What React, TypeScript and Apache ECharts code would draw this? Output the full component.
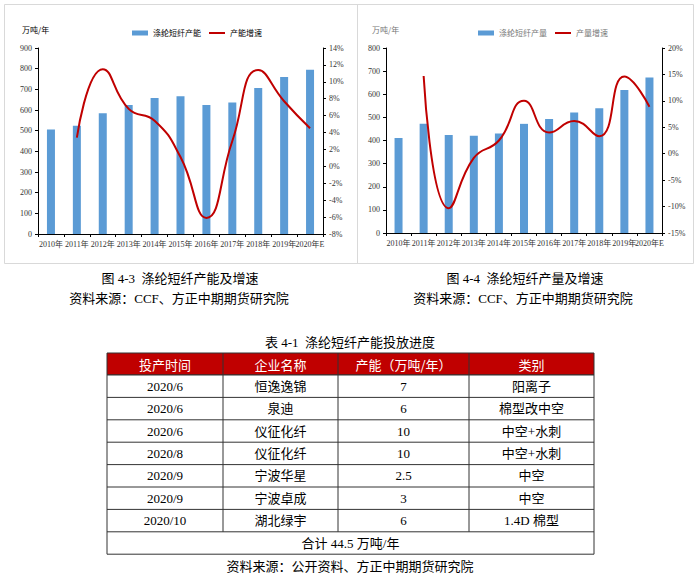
import React, { useEffect, useRef } from "react";
import * as echarts from "echarts";

// ---------- data ----------
const years = ["2010年", "2011年", "2012年", "2013年", "2014年", "2015年", "2016年", "2017年", "2018年", "2019年", "2020年E"];
const capacity = [506, 524, 584, 624, 658, 666, 624, 636, 706, 760, 795];
const capacityGrowth: (number | string)[] = ["-", 3.4, 11.5, 6.8, 5.4, 1.1, -6.1, 3.0, 11.4, 7.7, 4.5];
const output = [411, 472, 424, 421, 430, 472, 493, 521, 540, 618, 672];
const outputGrowth: (number | string)[] = ["-", 14.7, -10.3, -0.8, 2.5, 10.0, 4.0, 6.2, 3.3, 14.6, 8.9];

const tableHeaders = ["投产时间", "企业名称", "产能（万吨/年）", "类别"];
const tableDates = ["2020/6", "2020/6", "2020/6", "2020/8", "2020/9", "2020/9", "2020/10"];
const tableCompanies = ["恒逸逸锦", "泉迪", "仪征化纤", "仪征化纤", "宁波华星", "宁波卓成", "湖北绿宇"];
const tableCapacities = ["7", "6", "10", "10", "2.5", "3", "6"];
const tableTypes = ["阳离子", "棉型改中空", "中空+水刺", "中空+水刺", "中空", "中空", "1.4D 棉型"];
const tableTotal = "合计 44.5 万吨/年";

const caption1 = "图 4-3  涤纶短纤产能及增速";
const caption2 = "图 4-4  涤纶短纤产量及增速";
const sourceChart = "资料来源：CCF、方正中期期货研究院";
const tableTitle = "表 4-1  涤纶短纤产能投放进度";
const sourceTable = "资料来源：公开资料、方正中期期货研究院";

const SERIF = "'Liberation Serif', 'Noto Sans CJK SC', serif";
const SANS = "'Noto Sans CJK SC', sans-serif";
const BLUE = "#5B9BD5";
const RED = "#C00000";
const LINE_ICON = "path://M0 0h16v2H0z";

export default function App() {
  const ref = useRef<HTMLDivElement>(null);
  useEffect(() => {
    const chart = echarts.init(ref.current!, undefined, { renderer: "svg" });

    const axisText = { fontSize: 8, color: "#333", fontFamily: SERIF };
    const catAxis = (gi: number) => ({
      type: "category",
      gridIndex: gi,
      data: years,
      axisLine: { lineStyle: { color: "#000", width: 1 } },
      axisTick: { show: true, alignWithLabel: false, length: 3, lineStyle: { color: "#000" } },
      axisLabel: { ...axisText, margin: 6, interval: 0 },
    });
    const valAxis = (gi: number, min: number, max: number, interval: number, pct: boolean, pos: string) => ({
      type: "value",
      gridIndex: gi,
      min,
      max,
      interval,
      position: pos,
      axisLine: { show: true, lineStyle: { color: "#000", width: 1 } },
      axisTick: { show: true, length: 3, lineStyle: { color: "#000" } },
      splitLine: { show: false },
      axisLabel: { ...axisText, margin: 6, formatter: pct ? "{value}%" : "{value}" },
    });

    const colX = [107, 223, 338, 469, 594];
    const headerTop = 353;
    const headerH = 22;
    const rowH = 22.4;
    const graphics: any[] = [];
    graphics.push({
      type: "rect",
      shape: { x: 4.5, y: 4.5, width: 689, height: 259 },
      style: { fill: "#fff", stroke: "#D9D9D9", lineWidth: 1 },
      z: -10,
    });
    graphics.push({
      type: "line",
      shape: { x1: 357.5, y1: 4.5, x2: 357.5, y2: 263.5 },
      style: { stroke: "#D9D9D9", lineWidth: 1 },
      z: -9,
    });
    const centerText = (text: string, x: number, y: number, size: number, color: string, family: string) => ({
      type: "text",
      x,
      y,
      style: { text, fontSize: size, fill: color, fontFamily: family, textAlign: "center", textVerticalAlign: "middle" },
    });
    graphics.push(centerText(caption1, 180, 278, 13, "#000", SERIF));
    graphics.push(centerText(sourceChart, 179, 298, 13, "#000", SERIF));
    graphics.push(centerText(caption2, 525, 278, 13, "#000", SERIF));
    graphics.push(centerText(sourceChart, 523, 298, 13, "#000", SERIF));
    graphics.push(centerText(tableTitle, 350, 342, 13, "#000", SERIF));

    graphics.push({
      type: "rect",
      shape: { x: colX[0], y: headerTop, width: colX[4] - colX[0], height: headerH },
      style: { fill: RED, stroke: "#333", lineWidth: 1 },
    });
    for (let c = 0; c < 4; c++) {
      graphics.push(centerText(tableHeaders[c], (colX[c] + colX[c + 1]) / 2, headerTop + headerH / 2, 13, "#fff", SANS));
    }
    const nRows = tableDates.length;
    const bodyTop = headerTop + headerH;
    const tableBottom = bodyTop + (nRows + 1) * rowH;
    graphics.push({
      type: "rect",
      shape: { x: colX[0], y: bodyTop, width: colX[4] - colX[0], height: (nRows + 1) * rowH },
      style: { fill: "#fff", stroke: "#333", lineWidth: 1 },
    });
    for (let r = 1; r <= nRows; r++) {
      const y = bodyTop + r * rowH;
      graphics.push({ type: "line", shape: { x1: colX[0], y1: y, x2: colX[4], y2: y }, style: { stroke: "#333", lineWidth: 1 } });
    }
    for (let c = 1; c < 4; c++) {
      graphics.push({
        type: "line",
        shape: { x1: colX[c], y1: headerTop, x2: colX[c], y2: bodyTop + nRows * rowH },
        style: { stroke: "#333", lineWidth: 1 },
      });
    }
    const cols = [tableDates, tableCompanies, tableCapacities, tableTypes];
    for (let r = 0; r < nRows; r++) {
      const cy = bodyTop + r * rowH + rowH / 2;
      for (let c = 0; c < 4; c++) {
        graphics.push(centerText(cols[c][r], (colX[c] + colX[c + 1]) / 2, cy, 13, "#000", SERIF));
      }
    }
    graphics.push(centerText(tableTotal, (colX[0] + colX[4]) / 2, bodyTop + nRows * rowH + rowH / 2, 13, "#000", SERIF));
    graphics.push(centerText(sourceTable, 350, tableBottom + 12, 13, "#000", SERIF));

    graphics.push({ type: "text", x: 22, y: 29, style: { text: "万吨/年", fontSize: 8, fill: "#000", fontFamily: SANS, textVerticalAlign: "middle" } });
    graphics.push({ type: "text", x: 372, y: 29, style: { text: "万吨/年", fontSize: 8, fill: "#777", fontFamily: SANS, textVerticalAlign: "middle" } });

    chart.setOption({
      animation: false,
      backgroundColor: "#fff",
      grid: [
        { left: 38, right: 377, top: 48, bottom: 345, containLabel: false },
        { left: 386, right: 38, top: 48, bottom: 346, containLabel: false },
      ],
      legend: [
        {
          left: 127,
          top: 24,
          itemWidth: 16,
          itemHeight: 5,
          itemGap: 8,
          textStyle: { fontSize: 8, color: "#000", fontFamily: SANS },
          data: [{ name: "涤纶短纤产能", icon: "rect" }, { name: "产能增速", icon: LINE_ICON }],
        },
        {
          left: 473,
          top: 24,
          itemWidth: 16,
          itemHeight: 5,
          itemGap: 8,
          textStyle: { fontSize: 8, color: "#777", fontFamily: SANS },
          data: [{ name: "涤纶短纤产量", icon: "rect" }, { name: "产量增速", icon: LINE_ICON }],
        },
      ],
      xAxis: [catAxis(0), catAxis(1)],
      yAxis: [
        valAxis(0, 0, 900, 100, false, "left"),
        valAxis(0, -8, 14, 2, true, "right"),
        valAxis(1, 0, 800, 100, false, "left"),
        valAxis(1, -15, 20, 5, true, "right"),
      ],
      series: [
        { name: "涤纶短纤产能", type: "bar", xAxisIndex: 0, yAxisIndex: 0, data: capacity, barWidth: 8, itemStyle: { color: BLUE } },
        {
          name: "产能增速",
          type: "line",
          xAxisIndex: 0,
          yAxisIndex: 1,
          data: capacityGrowth,
          smooth: true,
          symbol: "none",
          lineStyle: { color: RED, width: 2 },
          itemStyle: { color: RED },
        },
        { name: "涤纶短纤产量", type: "bar", xAxisIndex: 1, yAxisIndex: 2, data: output, barWidth: 8, itemStyle: { color: BLUE } },
        {
          name: "产量增速",
          type: "line",
          xAxisIndex: 1,
          yAxisIndex: 3,
          data: outputGrowth,
          smooth: true,
          symbol: "none",
          lineStyle: { color: RED, width: 2 },
          itemStyle: { color: RED },
        },
      ],
      graphic: graphics,
    });
    return () => chart.dispose();
  }, []);
  return <div ref={ref} style={{ position: "fixed", left: 0, top: 0, width: 700, height: 579 }} />;
}
